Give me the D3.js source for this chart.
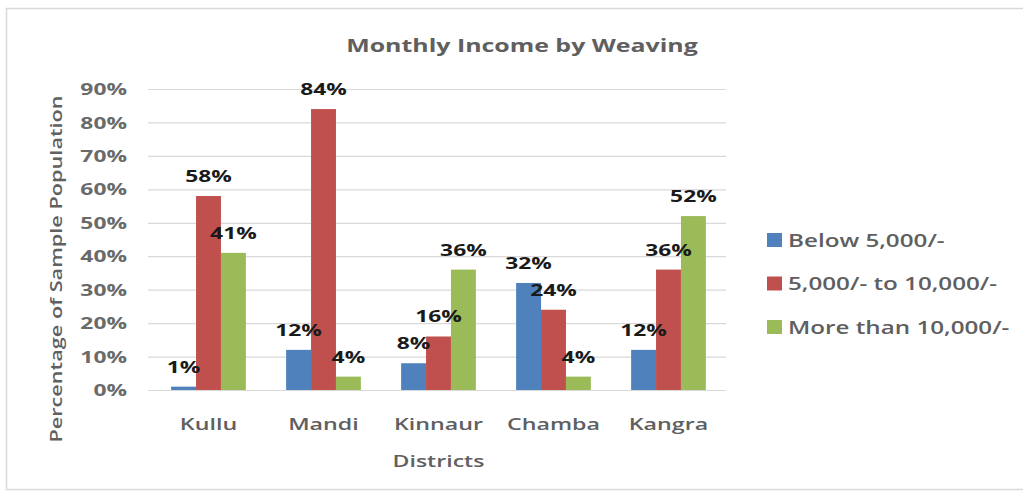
<!DOCTYPE html>
<html>
<head>
<meta charset="utf-8">
<script src="https://cdn.jsdelivr.net/npm/d3@7"></script>
<style>
  html, body { margin: 0; padding: 0; background: #ffffff; }
  svg { display: block; }
</style>
</head>
<body>
<svg id="chart" width="1023" height="494"></svg>
<script>
// Monthly income from weaving, share of sampled households per district (%)
const districts = ["Kullu", "Mandi", "Kinnaur", "Chamba", "Kangra"];
const seriesNames = ["Below 5,000/-", "5,000/- to 10,000/-", "More than 10,000/-"];
const below5000 = [1, 12, 8, 32, 12];
const from5000to10000 = [58, 84, 16, 24, 36];
const above10000 = [41, 4, 36, 4, 52];
const yTickValues = [0, 10, 20, 30, 40, 50, 60, 70, 80, 90];
const seriesColors = ["#4F81BD", "#C0504D", "#9BBB59"];

const chartTitle = "Monthly Income by Weaving";
const xTitle = "Districts";
const yTitle = "Percentage of Sample Population";

const seriesValues = [below5000, from5000to10000, above10000];
const rows = districts.map((d, i) => ({
  district: d,
  values: seriesNames.map((s, k) => ({ series: s, k, value: seriesValues[k][i] }))
}));

const svg = d3.select("#chart");
const FONT = "'Open Sans', 'Noto Sans', sans-serif";
const GREY = "#595959";
const SX = 1.4; // glyphs are drawn wide along the reading direction

// text helper: places a string at (x, y) with widened glyphs
function addText(parent, x, y, str, o = {}) {
  const rot = o.rotate ? ` rotate(${o.rotate})` : "";
  return parent.append("text")
    .attr("transform", `translate(${x},${y})${rot} scale(${SX},1)`)
    .attr("text-anchor", o.anchor || "middle")
    .attr("dominant-baseline", o.baseline || "alphabetic")
    .attr("font-family", FONT)
    .attr("font-size", o.size || 16)
    .attr("font-weight", o.weight || 400)
    .attr("fill", o.fill || GREY)
    .text(str);
}

// chart frame
svg.append("rect")
  .attr("x", 6.5).attr("y", 8.5)
  .attr("width", 1030).attr("height", 481)
  .attr("fill", "#ffffff")
  .attr("stroke", "#d9d9d9")
  .attr("stroke-width", 1.5);

const plot = { left: 151, right: 726, top: 89, bottom: 390 };

const x0 = d3.scaleBand()
  .domain(districts)
  .range([plot.left, plot.right])
  .paddingInner(0.35)
  .paddingOuter(0.175);

const x1 = d3.scaleBand()
  .domain(seriesNames)
  .range([0, x0.bandwidth()]);

const y = d3.scaleLinear()
  .domain([0, 90])
  .range([plot.bottom, plot.top]);

const color = d3.scaleOrdinal().domain(seriesNames).range(seriesColors);

// horizontal gridlines, drawn from the axis ticks
const gGrid = svg.append("g")
  .attr("transform", `translate(${plot.right},0) scale(-1,1)`)
  .call(d3.axisRight(y).tickValues(yTickValues).tickSize(plot.right - plot.left + 3).tickFormat(""));
gGrid.select(".domain").remove();
gGrid.selectAll(".tick line").attr("stroke", "#d9d9d9").attr("stroke-width", 1.2);

// y tick labels
const gYLabels = svg.append("g");
yTickValues.forEach(v => {
  addText(gYLabels, 127, y(v), v + "%", { anchor: "end", baseline: "central", size: 16.3, weight: 700, fill: "#6a6a6a" });
});

// bars
const groups = svg.append("g").selectAll("g")
  .data(rows)
  .join("g")
  .attr("transform", d => `translate(${x0(d.district)},0)`);

groups.selectAll("rect")
  .data(d => d.values)
  .join("rect")
  .attr("x", d => x1(d.series))
  .attr("y", d => y(d.value))
  .attr("width", x1.bandwidth())
  .attr("height", d => y(0) - y(d.value))
  .attr("fill", d => color(d.series));

// data labels
groups.each(function (d) {
  const g = d3.select(this);
  d.values.forEach(v => {
    addText(g, x1(v.series) + x1.bandwidth() / 2, y(v.value) - 14, v.value + "%",
      { size: 16.3, weight: 700, fill: "#1a1a1a" });
  });
});

// category labels
const gX = svg.append("g");
districts.forEach(dn => {
  addText(gX, x0(dn) + x0.bandwidth() / 2, 430, dn, { size: 16.6, weight: 600, fill: "#606060" });
});

// axis titles
addText(svg, (plot.left + plot.right) / 2, 467, xTitle, { size: 16.5, weight: 600, fill: "#606060" });
addText(svg, 62, 269, yTitle, { rotate: -90, size: 15.5, weight: 600, fill: "#606060" });

// chart title
addText(svg, 522, 52, chartTitle, { size: 17.8, weight: 700, fill: "#5f5f5f" });

// legend
const legend = svg.append("g");
seriesNames.forEach((s, k) => {
  const cy = 240 + k * 43.5;
  legend.append("rect")
    .attr("x", 767).attr("y", cy - 7)
    .attr("width", 15).attr("height", 14)
    .attr("fill", seriesColors[k]);
  addText(legend, 788, cy, s, { anchor: "start", baseline: "central", size: 17.3, weight: 600, fill: "#5f5f5f" });
});
</script>
</body>
</html>
